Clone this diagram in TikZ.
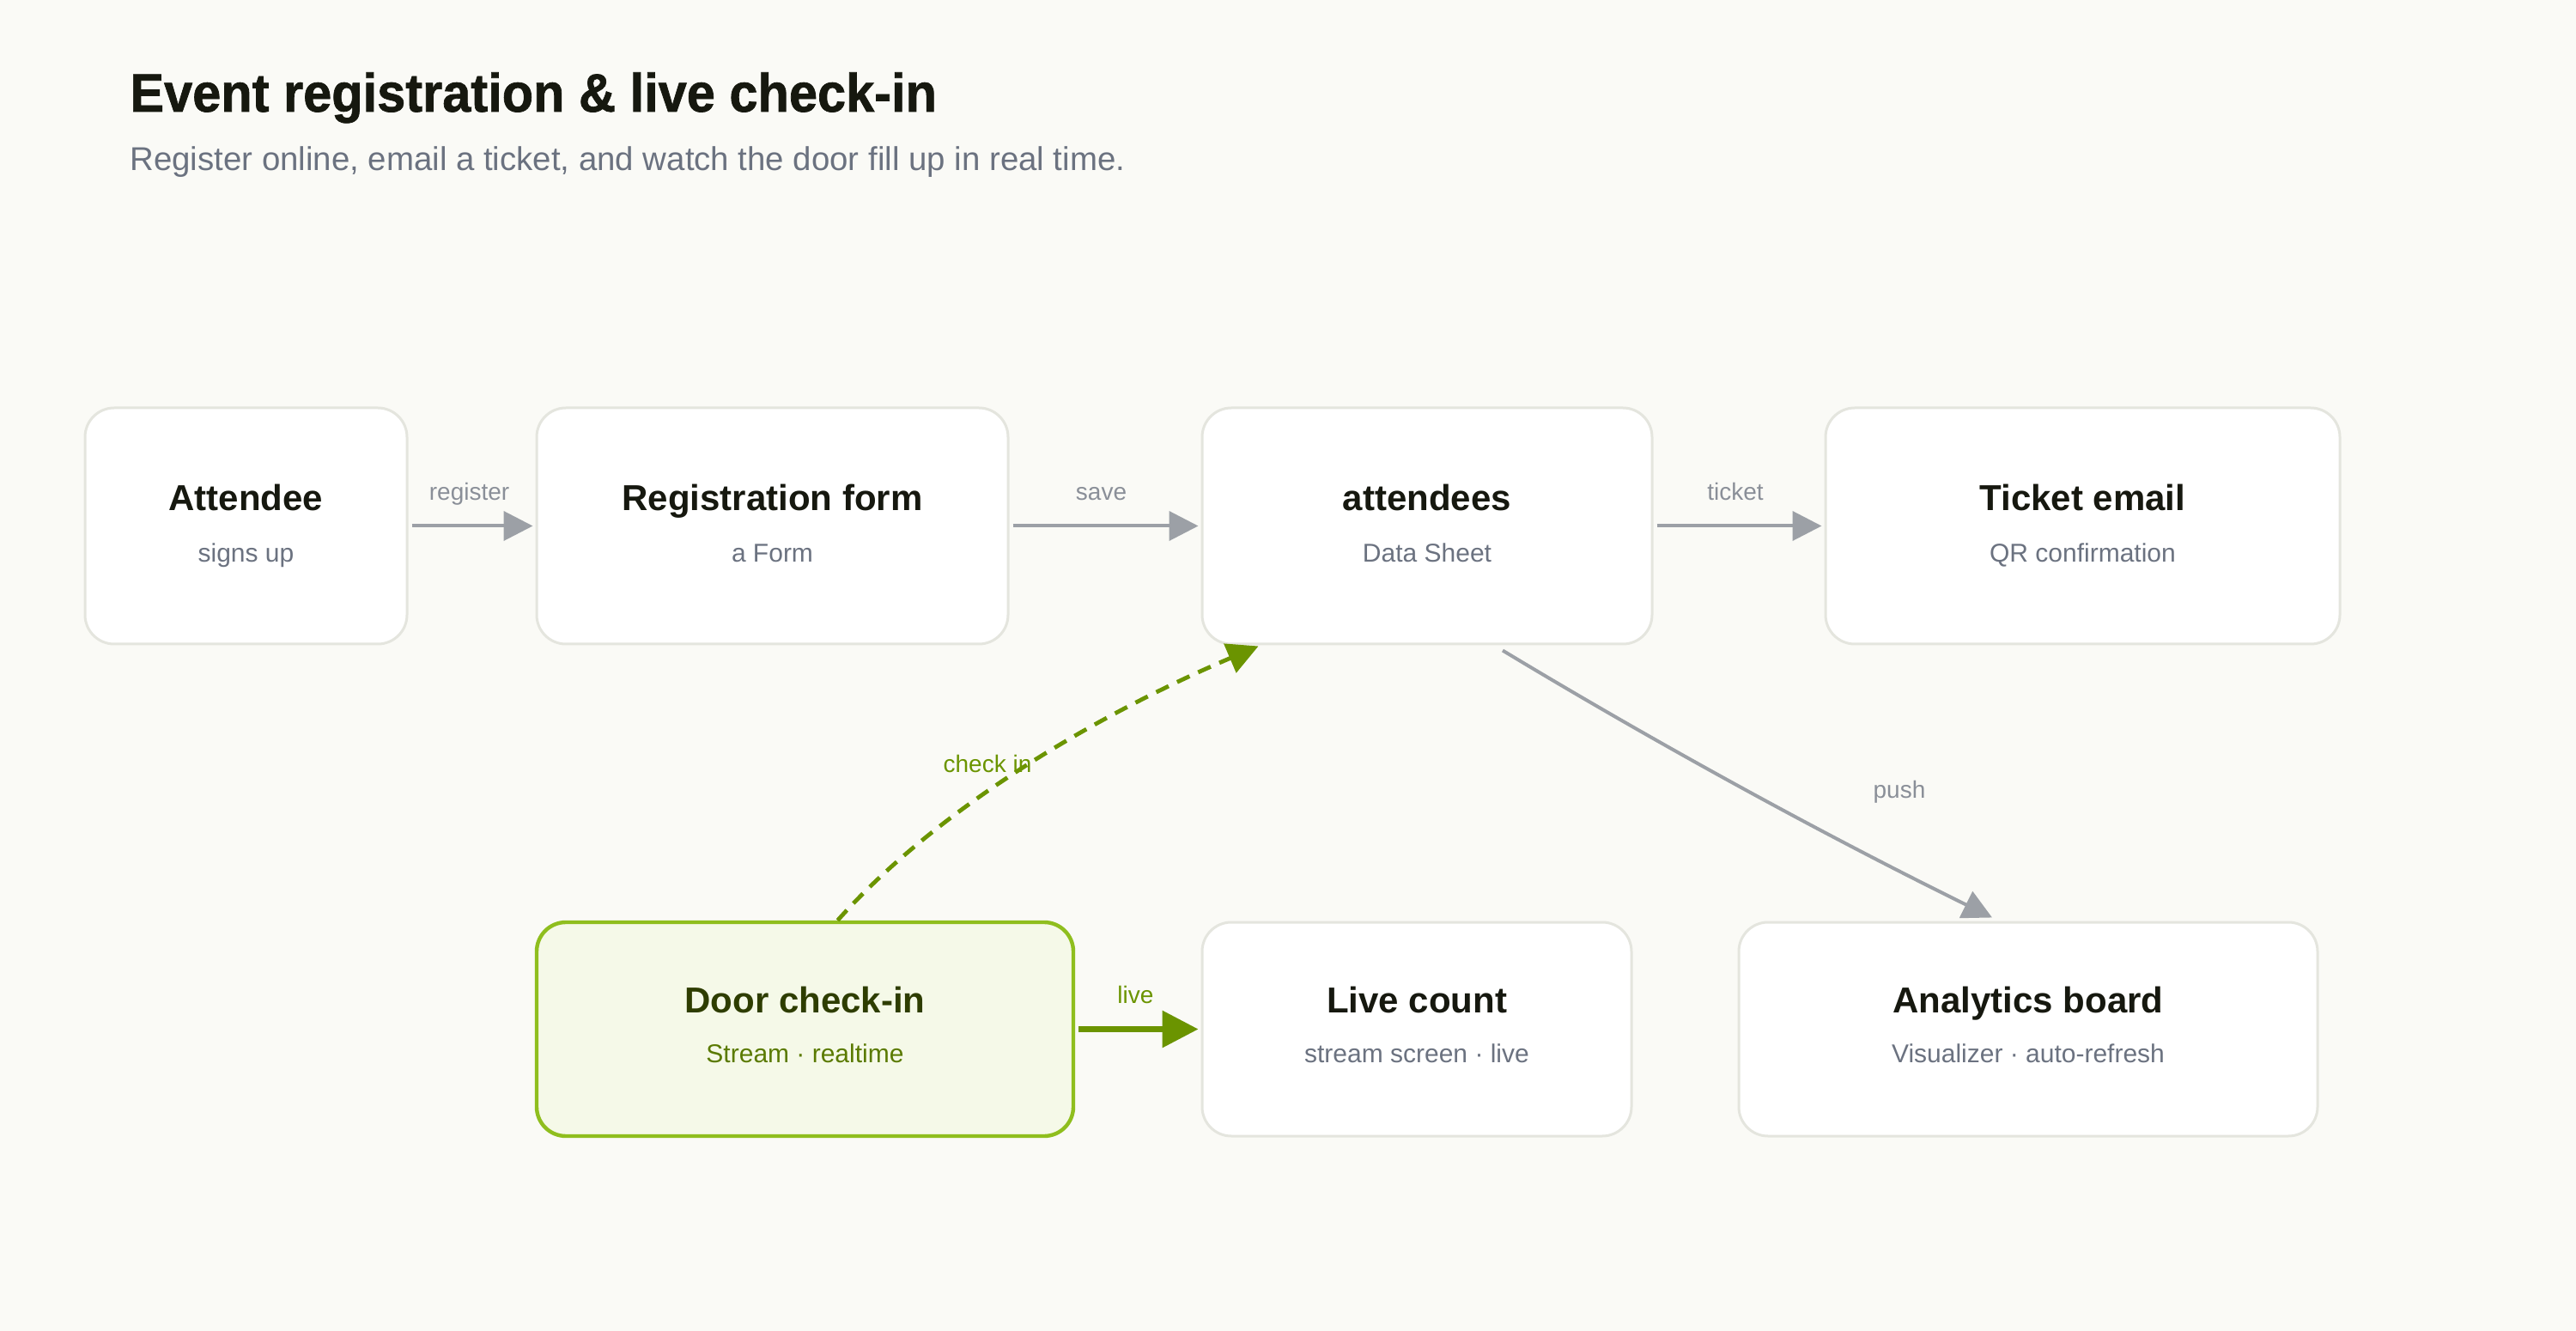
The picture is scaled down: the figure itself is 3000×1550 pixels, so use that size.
\documentclass[tikz,border=0pt]{standalone}
\usepackage{fontspec}
\setmainfont{Liberation Sans}
\usetikzlibrary{arrows.meta,calc}
\definecolor{bgc}{HTML}{FAFAF6}
\definecolor{boxline}{HTML}{E4E5DE}
\definecolor{ttlc}{HTML}{16180F}
\definecolor{subc}{HTML}{6B7280}
\definecolor{edgec}{HTML}{9CA0A6}
\definecolor{elabc}{HTML}{8A8F98}
\definecolor{grn}{HTML}{6B9400}
\definecolor{grnline}{HTML}{8FBE1E}
\definecolor{grnfill}{HTML}{F5F9E8}
\definecolor{grnttl}{HTML}{2E3D00}
\definecolor{grnsub}{HTML}{5A7A00}
\tikzset{
  card/.style={draw=boxline, line width=1.5pt, fill=white, rounded corners=17pt, inner sep=0pt},
  hotcard/.style={draw=grnline, line width=2.2pt, fill=grnfill, rounded corners=17pt, inner sep=0pt},
  ttl/.style={anchor=base, inner sep=0pt, text=ttlc, font=\fontsize{21pt}{21pt}\selectfont\bfseries},
  sub/.style={anchor=base, inner sep=0pt, text=subc, font=\fontsize{15pt}{15pt}\selectfont},
  elab/.style={anchor=base, inner sep=0pt, text=elabc, font=\fontsize{14pt}{14pt}\selectfont},
  gedge/.style={draw=edgec, line width=2pt, -{Triangle[length=17pt,width=17pt]}},
  gredge/.style={draw=grn, line width=3.3pt, -{Triangle[length=21pt,width=21pt]}},
  grdash/.style={draw=grn, line width=2.4pt, dash pattern=on 8pt off 5.5pt, -{Triangle[length=18pt,width=18pt]}},
}
\begin{document}
\begin{tikzpicture}[x=0.5pt,y=-0.5pt]
\path[use as bounding box, fill=bgc] (0,0) rectangle (3000,1550);

% title
\node[anchor=base west, inner sep=0pt, text=ttlc, font=\fontsize{31.5pt}{31.5pt}\selectfont\bfseries\addfontfeature{FakeBold=1.2}] (title) at (151,130) {\scalebox{0.945}[1]{Event registration \& live check-in}};
\node[anchor=base west, inner sep=0pt, text=subc, font=\fontsize{19.2pt}{19.2pt}\selectfont] (subtitle) at (151,199) {Register online, email a ticket, and watch the door fill up in real time.};

% boxes
\node[card, minimum width=187.5pt, minimum height=137.5pt] (att) at (286.5,612.5) {};
\node[card, minimum width=274.5pt, minimum height=137.5pt] (reg) at (899.5,612.5) {};
\node[card, minimum width=262pt, minimum height=137.5pt] (atd) at (1662,612.5) {};
\node[card, minimum width=299.5pt, minimum height=137.5pt] (tkt) at (2425.5,612.5) {};
\node[hotcard, minimum width=312.5pt, minimum height=124.5pt] (door) at (937.5,1198.5) {};
\node[card, minimum width=250pt, minimum height=124.5pt] (live) at (1650,1198.5) {};
\node[card, minimum width=337pt, minimum height=124.5pt] (ana) at (2362,1198.5) {};

% box texts
\node[ttl] (attT) at ($(att.center)+(0,-18)$) {Attendee};
\node[sub] (attS) at ($(att.center)+(0,42)$) {signs up};
\node[ttl] (regT) at ($(reg.center)+(0,-18)$) {Registration form};
\node[sub] (regS) at ($(reg.center)+(0,42)$) {a Form};
\node[ttl] (atdT) at ($(atd.center)+(0,-18)$) {attendees};
\node[sub] (atdS) at ($(atd.center)+(0,42)$) {Data Sheet};
\node[ttl] (tktT) at ($(tkt.center)+(0,-18)$) {Ticket email};
\node[sub] (tktS) at ($(tkt.center)+(0,42)$) {QR confirmation};
\node[ttl, text=grnttl] (doorT) at ($(door.center)+(0,-19)$) {Door check-in};
\node[sub, text=grnsub] (doorS) at ($(door.center)+(0,39)$) {Stream · realtime};
\node[ttl] (liveT) at ($(live.center)+(0,-19)$) {Live count};
\node[sub] (liveS) at ($(live.center)+(0,39)$) {stream screen · live};
\node[ttl] (anaT) at ($(ana.center)+(0,-19)$) {Analytics board};
\node[sub] (anaS) at ($(ana.center)+(0,39)$) {Visualizer · auto-refresh};

% straight edges
\draw[gedge, shorten <=2pt, shorten >=1.5pt] (att.east) -- node[elab, pos=0.48, yshift=15pt] (lreg) {register} (reg.west);
\draw[gedge, shorten <=2pt, shorten >=1.5pt] (reg.east) -- node[elab, pos=0.48, yshift=15pt] (lsave) {save} (atd.west);
\draw[gedge, shorten <=2pt, shorten >=1.5pt] (atd.east) -- node[elab, pos=0.48, yshift=15pt] (ltkt) {ticket} (tkt.west);
\draw[gredge, shorten <=2pt, shorten >=1.5pt] (door.east) -- node[elab, text=grn, pos=0.48, yshift=15pt] (llive) {live} (live.west);

% check in (dashed, curved)
\coordinate (ckS) at ($(door.north)+(38,0)$);
\coordinate (ckE) at ($(atd.south west)+(67,1)$);
\draw[grdash] (ckS) .. controls (1084,950) and (1260,840) .. (ckE);
\node[elab, text=grn] (lck) at (1150,900) {check in};

% push
\coordinate (pS) at ($(atd.south)+(88,6)$);
\coordinate (pE) at ($(ana.north)+(-42,-4)$);
\draw[gedge] (pS) .. controls (1935,869) and (2126,973) .. (pE);
\node[elab] (lpush) at (2212,929) {push};
\end{tikzpicture}
\end{document}
